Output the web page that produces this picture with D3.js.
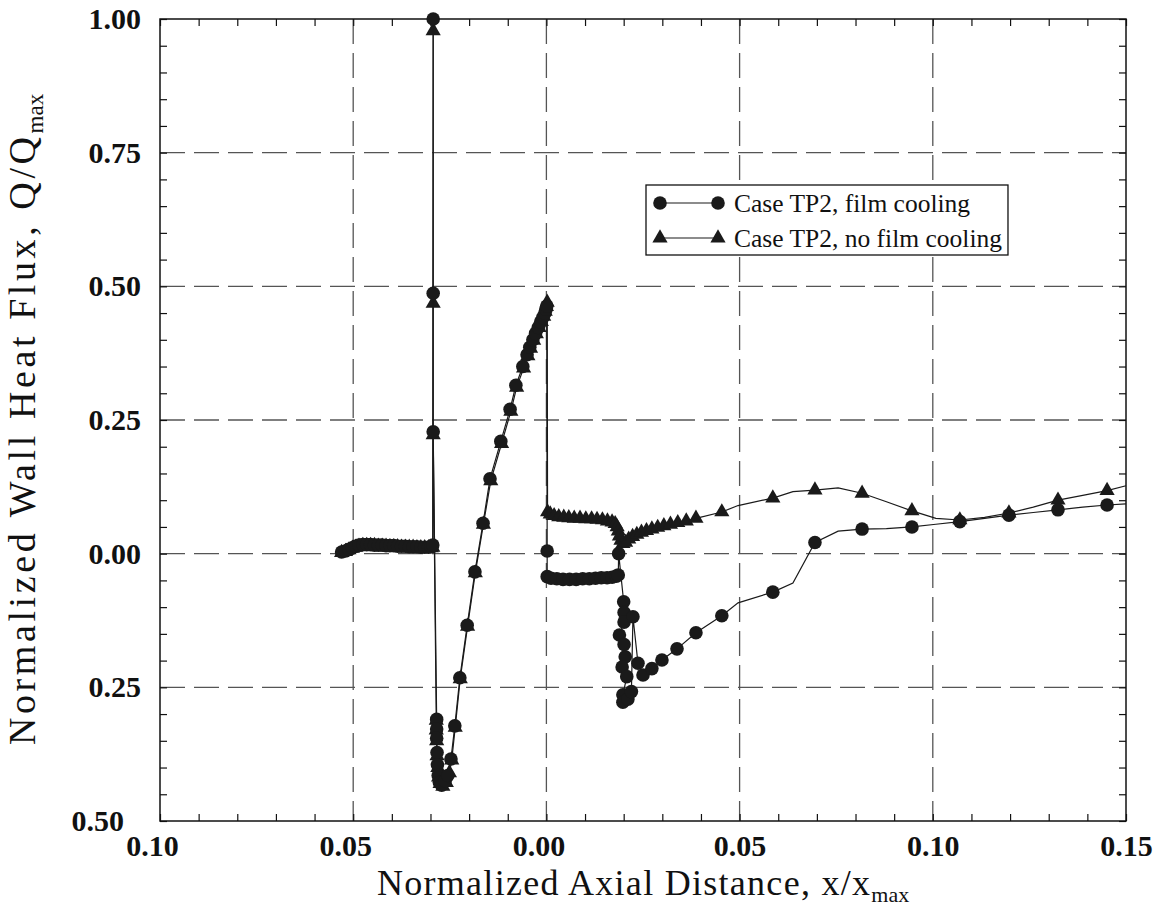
<!DOCTYPE html>
<html><head><meta charset="utf-8">
<script src="https://cdn.jsdelivr.net/npm/d3@7"></script>
<style>
body{margin:0;background:#fff}
text{font-family:"Liberation Serif","Times New Roman",serif;fill:#111}
</style>
</head><body>
<svg id="chart" width="1161" height="909"></svg>
<script>
// ---- data ----
const xTickValues = [-0.10, -0.05, 0.00, 0.05, 0.10, 0.15];
const yTickValues = [-0.50, -0.25, 0.00, 0.25, 0.50, 0.75, 1.00];
const seriesNames = ["Case TP2, film cooling", "Case TP2, no film cooling"];
const xTitle = "Normalized Axial Distance, x/x";
const yTitle = "Normalized Wall Heat Flux, Q/Q";
const titleSub = "max";

// [x, y, marker shown (1) or line vertex only (0)]
const filmCooling = [
 [-0.0530,0.003,1],[-0.0520,0.005,1],[-0.0511,0.008,1],[-0.0502,0.011,1],[-0.0494,0.014,1],[-0.0485,0.016,1],
 [-0.0475,0.017,1],[-0.0465,0.017,1],[-0.0455,0.017,1],[-0.0445,0.016,1],[-0.0435,0.016,1],[-0.0425,0.016,1],
 [-0.0415,0.015,1],[-0.0405,0.015,1],[-0.0395,0.015,1],[-0.0385,0.014,1],[-0.0375,0.014,1],[-0.0365,0.014,1],
 [-0.0355,0.013,1],[-0.0345,0.013,1],[-0.0335,0.013,1],[-0.0325,0.012,1],[-0.0315,0.012,1],[-0.0305,0.012,1],
 [-0.0298,0.013,1],[-0.0294,0.016,1],
 [-0.0293,1.000,1],[-0.0293,0.487,1],[-0.0293,0.228,1],[-0.0284,-0.310,1],[-0.0284,-0.328,1],[-0.0284,-0.345,1],
 [-0.0283,-0.372,1],[-0.0282,-0.395,1],[-0.0280,-0.415,1],[-0.0277,-0.428,1],[-0.0271,-0.433,1],[-0.0262,-0.425,1],
 [-0.0255,-0.415,1],[-0.0247,-0.384,1],[-0.0237,-0.322,1],[-0.0224,-0.232,1],[-0.0205,-0.134,1],[-0.0185,-0.034,1],
 [-0.0164,0.057,1],[-0.0146,0.140,1],[-0.0118,0.210,1],[-0.0094,0.270,1],[-0.0079,0.315,1],[-0.0061,0.350,1],
 [-0.0050,0.372,1],[-0.0043,0.386,1],[-0.0035,0.400,1],[-0.0028,0.412,1],[-0.0021,0.423,1],[-0.0015,0.433,1],
 [-0.0009,0.442,1],[-0.0004,0.450,1],[-0.0001,0.457,1],[0.0001,0.463,1],
 [0.0002,0.005,1],[0.0002,-0.043,1],
 [0.0012,-0.046,1],[0.0027,-0.047,1],[0.0043,-0.048,1],[0.0060,-0.048,1],[0.0077,-0.048,1],[0.0094,-0.047,1],
 [0.0111,-0.047,1],[0.0127,-0.046,1],[0.0142,-0.045,1],[0.0157,-0.045,1],[0.0170,-0.044,1],[0.0181,-0.042,1],
 [0.0186,-0.040,1],[0.0187,0.000,1],
 [0.0200,-0.090,1],[0.0201,-0.110,1],[0.0201,-0.128,1],[0.0189,-0.152,1],[0.0201,-0.170,1],[0.0204,-0.193,1],
 [0.0196,-0.212,1],[0.0208,-0.230,1],[0.0198,-0.264,1],[0.0198,-0.278,1],[0.0211,-0.272,1],[0.0220,-0.258,1],
 [0.0224,-0.118,1],[0.0237,-0.205,1],[0.0250,-0.227,1],[0.0273,-0.215,1],[0.0299,-0.199,1],[0.0338,-0.178,1],
 [0.0387,-0.148,1],[0.0454,-0.116,1],[0.0496,-0.092,0],[0.0586,-0.072,1],[0.0638,-0.055,0],[0.0695,0.021,1],
 [0.0755,0.042,0],[0.0817,0.046,1],[0.0880,0.047,0],[0.0946,0.050,1],[0.1008,0.055,0],[0.1070,0.060,1],
 [0.1134,0.066,0],[0.1197,0.072,1],[0.1260,0.077,0],[0.1324,0.082,1],[0.1388,0.087,0],[0.1451,0.091,1],
 [0.1500,0.093,0]
];

const noFilmCooling = [
 [-0.0530,0.002,1],[-0.0520,0.004,1],[-0.0511,0.007,1],[-0.0502,0.010,1],[-0.0494,0.012,1],[-0.0485,0.014,1],
 [-0.0475,0.015,1],[-0.0465,0.015,1],[-0.0455,0.015,1],[-0.0445,0.015,1],[-0.0435,0.014,1],[-0.0425,0.014,1],
 [-0.0415,0.014,1],[-0.0405,0.013,1],[-0.0395,0.013,1],[-0.0385,0.013,1],[-0.0375,0.012,1],[-0.0365,0.012,1],
 [-0.0355,0.012,1],[-0.0345,0.012,1],[-0.0335,0.011,1],[-0.0325,0.011,1],[-0.0315,0.011,1],[-0.0305,0.011,1],
 [-0.0298,0.011,1],[-0.0294,0.012,1],
 [-0.0293,0.978,1],[-0.0293,0.468,1],[-0.0293,0.222,1],[-0.0285,-0.312,1],[-0.0285,-0.330,1],[-0.0284,-0.350,1],
 [-0.0283,-0.378,1],[-0.0281,-0.400,1],[-0.0279,-0.418,1],[-0.0275,-0.430,1],[-0.0268,-0.435,1],[-0.0259,-0.428,1],
 [-0.0251,-0.410,1],[-0.0245,-0.386,1],[-0.0236,-0.325,1],[-0.0223,-0.234,1],[-0.0204,-0.136,1],[-0.0184,-0.036,1],
 [-0.0163,0.055,1],[-0.0144,0.136,1],[-0.0116,0.206,1],[-0.0092,0.266,1],[-0.0077,0.311,1],[-0.0059,0.347,1],
 [-0.0048,0.370,1],[-0.0041,0.384,1],[-0.0033,0.399,1],[-0.0026,0.411,1],[-0.0019,0.423,1],[-0.0013,0.434,1],
 [-0.0007,0.444,1],[-0.0003,0.453,1],[0.0000,0.462,1],[0.0002,0.470,1],
 [0.0003,0.078,1],[0.0010,0.074,1],[0.0020,0.071,1],[0.0032,0.069,1],[0.0045,0.068,1],[0.0058,0.067,1],
 [0.0072,0.066,1],[0.0087,0.066,1],[0.0102,0.065,1],[0.0117,0.065,1],[0.0131,0.064,1],[0.0145,0.063,1],
 [0.0158,0.061,1],[0.0170,0.059,1],[0.0178,0.056,1],[0.0183,0.050,1],[0.0186,0.042,1],[0.0189,0.033,1],
 [0.0193,0.025,1],[0.0198,0.019,1],[0.0205,0.021,1],[0.0213,0.027,1],[0.0223,0.032,1],[0.0234,0.036,1],
 [0.0246,0.040,1],[0.0259,0.043,1],[0.0273,0.046,1],[0.0288,0.049,1],[0.0304,0.052,1],[0.0321,0.055,1],
 [0.0340,0.058,1],[0.0362,0.061,1],[0.0387,0.066,1],[0.0454,0.078,1],[0.0496,0.090,0],[0.0586,0.104,1],
 [0.0638,0.116,0],[0.0695,0.119,1],[0.0755,0.123,0],[0.0817,0.113,1],[0.0880,0.097,0],[0.0946,0.080,1],
 [0.1008,0.066,0],[0.1070,0.063,1],[0.1134,0.068,0],[0.1197,0.076,1],[0.1260,0.087,0],[0.1324,0.100,1],
 [0.1388,0.109,0],[0.1451,0.118,1],[0.1500,0.127,0]
];

// ---- layout ----
const M = {left:160, right:1126, top:19, bottom:821};
const svg = d3.select("#chart");

const x = d3.scaleLinear().domain([-0.10, 0.15]).range([M.left, M.right]);
const y = d3.scaleLinear().domain([-0.50, 1.00]).range([M.bottom, M.top]);

const xMinor = d3.range(-0.10, 0.1501, 0.01);
const yMinor = d3.range(-0.50, 1.0001, 0.05);

// grid
const grid = svg.append("g").attr("stroke", "#555").attr("stroke-width", 1.3)
  .attr("stroke-dasharray", "25,9").attr("fill", "none");
xTickValues.slice(1, -1).forEach(v => grid.append("line")
  .attr("x1", x(v)).attr("x2", x(v)).attr("y1", M.top).attr("y2", M.bottom));
yTickValues.slice(1, -1).forEach(v => grid.append("line")
  .attr("y1", y(v)).attr("y2", y(v)).attr("x1", M.left).attr("x2", M.right));

// ticks (inward) on all four sides
function tickAxis(axis, transform) {
  const g = svg.append("g").attr("transform", transform).call(axis);
  g.select(".domain").remove();
  g.selectAll(".tick line").attr("stroke", "#111").attr("stroke-width", 1.2);
  g.selectAll("text").remove();
}
tickAxis(d3.axisBottom(x).tickValues(xMinor).tickSize(-7).tickFormat(""), `translate(0,${M.bottom})`);
tickAxis(d3.axisTop(x).tickValues(xMinor).tickSize(-7).tickFormat(""), `translate(0,${M.top})`);
tickAxis(d3.axisLeft(y).tickValues(yMinor).tickSize(-7).tickFormat(""), `translate(${M.left},0)`);
tickAxis(d3.axisRight(y).tickValues(yMinor).tickSize(-7).tickFormat(""), `translate(${M.right},0)`);

// tick labels
const fmt = d => d3.format(".2f")(Math.abs(d));
const xl = svg.append("g").attr("transform", `translate(0,${M.bottom})`)
  .call(d3.axisBottom(x).tickValues(xTickValues).tickSize(0).tickPadding(14).tickFormat(fmt));
xl.select(".domain").remove();
xl.selectAll("text").attr("font-family", "Liberation Serif").attr("font-weight", "bold")
  .attr("font-size", 30).attr("fill", "#111")
  .attr("dx", d => d <= 0 ? -8 : 0);

const yl = svg.append("g").attr("transform", `translate(${M.left},0)`)
  .call(d3.axisLeft(y).tickValues(yTickValues).tickSize(0).tickPadding(19).tickFormat(fmt));
yl.select(".domain").remove();
yl.selectAll("text").attr("font-family", "Liberation Serif").attr("font-weight", "bold")
  .attr("font-size", 30).attr("fill", "#111")
  .attr("dx", d => d === -0.5 ? -17 : 0);

// frame
svg.append("rect").attr("x", M.left).attr("y", M.top)
  .attr("width", M.right - M.left).attr("height", M.bottom - M.top)
  .attr("fill", "none").attr("stroke", "#111").attr("stroke-width", 1.5);

// series
const line = d3.line().x(d => x(d[0])).y(d => y(d[1]));
const triSym = d3.symbol().type(d3.symbolTriangle).size(100);

function drawSeries(data, kind) {
  const g = svg.append("g");
  g.append("path").datum(data).attr("d", line)
    .attr("fill", "none").attr("stroke", "#1a1a1a").attr("stroke-width", 1.2);
  const pts = data.filter(d => d[2] === 1);
  if (kind === "circle") {
    g.selectAll("circle").data(pts).join("circle")
      .attr("cx", d => x(d[0])).attr("cy", d => y(d[1])).attr("r", 6.8).attr("fill", "#1a1a1a");
  } else {
    g.selectAll("path.m").data(pts).join("path").attr("class", "m")
      .attr("transform", d => `translate(${x(d[0])},${y(d[1])})`)
      .attr("d", triSym).attr("fill", "#1a1a1a");
  }
}
drawSeries(noFilmCooling, "triangle");
drawSeries(filmCooling, "circle");

// legend
const lg = svg.append("g");
const lx = 646, ly = 185;
const rows = [{name: seriesNames[0], kind: "circle", yy: 203}, {name: seriesNames[1], kind: "triangle", yy: 238}];
const texts = [];
rows.forEach(r => {
  lg.append("line").attr("x1", 660).attr("x2", 718).attr("y1", r.yy).attr("y2", r.yy)
    .attr("stroke", "#1a1a1a").attr("stroke-width", 1.2);
  [660, 718].forEach(cx => {
    if (r.kind === "circle") lg.append("circle").attr("cx", cx).attr("cy", r.yy).attr("r", 6.8).attr("fill", "#1a1a1a");
    else lg.append("path").attr("transform", `translate(${cx},${r.yy})`).attr("d", triSym).attr("fill", "#1a1a1a");
  });
  texts.push(lg.append("text").attr("x", 734).attr("y", r.yy + 9).attr("font-size", 25.5).text(r.name));
});
const tw = d3.max(texts, t => t.node().getComputedTextLength());
lg.insert("rect", ":first-child").attr("x", lx).attr("y", ly).attr("width", 734 + tw + 6 - lx).attr("height", 70)
  .attr("fill", "#fff").attr("stroke", "#111").attr("stroke-width", 1.3);

// axis titles
const xt = svg.append("text").attr("x", 377).attr("y", 895).attr("font-size", 36);
xt.append("tspan").attr("textLength", 493).attr("lengthAdjust", "spacing").text(xTitle);
xt.append("tspan").attr("font-size", 22).attr("dy", 7).text(titleSub);

const yt = svg.append("text").attr("transform", `translate(35,745) rotate(-90)`).attr("font-size", 38);
yt.append("tspan").attr("textLength", 608).attr("lengthAdjust", "spacing").text(yTitle);
yt.append("tspan").attr("font-size", 23).attr("dy", 8).text(titleSub);
</script>
</body></html>
